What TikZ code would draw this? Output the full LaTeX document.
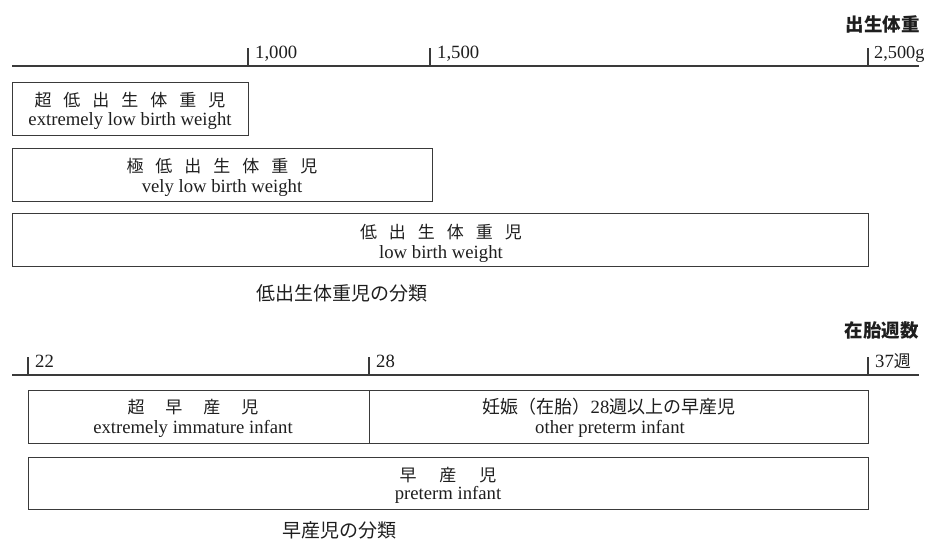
\documentclass[tikz,border=0pt]{standalone}
\usepackage{fontspec}
\setmainfont{Liberation Serif}
\newfontfamily\jpf{Noto Sans CJK JP}
\newcommand\gA{\hspace{12pt}}
\newcommand\gB{\hspace{21pt}}
\newcommand\gC{\hspace{23pt}}
\definecolor{lncol}{HTML}{3A3A3A}
\definecolor{txtcol}{HTML}{1E1E1E}
\begin{document}
\begin{tikzpicture}[x=1pt,y=-1pt,
  axisln/.style={line width=1.6pt, draw=lncol},
  tickln/.style={line width=1.1pt, draw=lncol},
  boxst/.style={draw=lncol, line width=1.4pt, inner sep=0pt, anchor=north west},
  lat/.style={font=\fontsize{18.7}{20}\selectfont, text=txtcol, inner sep=0pt},
  jp/.style={font=\jpf\fontsize{17}{20}\selectfont, text=txtcol, inner sep=0pt},
  captxt/.style={font=\jpf\fontsize{19}{22}\selectfont, text=txtcol, inner sep=0pt},
  ttl/.style={font=\jpf\bfseries\fontsize{18.5}{22}\selectfont, text=txtcol, inner sep=0pt},
]
\useasboundingbox (0,0) rectangle (928,544);
% ---------- birth weight ----------
\node[ttl, anchor=east] (wt) at (920,24) {出生体重};
\coordinate (ta1) at (12,66);
\coordinate (ta2) at (919,66);
\draw[axisln] (ta1) -- (ta2);
\coordinate (t1a) at (248,48); \coordinate (t1b) at (248,66);
\coordinate (t2a) at (430,48); \coordinate (t2b) at (430,66);
\coordinate (t3a) at (868,48); \coordinate (t3b) at (868,66);
\draw[tickln] (t1a) -- (t1b);
\draw[tickln] (t2a) -- (t2b);
\draw[tickln] (t3a) -- (t3b);
\node[lat, anchor=base west] (l1000) at (255,58) {1,000};
\node[lat, anchor=base west] (l1500) at (437,58) {1,500};
\node[lat, anchor=base west, font=\fontsize{18.3}{20}\selectfont] (l2500) at (874,58) {2,500g};

\node[boxst, minimum width=236pt, minimum height=53pt] (b1) at (12,82) {};
\node[jp] (b1j) at (130,100) {超\gA 低\gA 出\gA 生\gA 体\gA 重\gA 児};
\node[lat, anchor=base] (b1e) at (130,125) {extremely low birth weight};

\node[boxst, minimum width=420pt, minimum height=53pt] (b2) at (12,148) {};
\node[jp] (b2j) at (222,166) {極\gA 低\gA 出\gA 生\gA 体\gA 重\gA 児};
\node[lat, anchor=base] (b2e) at (222,192) {vely low birth weight};

\node[boxst, minimum width=856pt, minimum height=53pt] (b3) at (12,213) {};
\node[jp] (b3j) at (441,232) {低\gA 出\gA 生\gA 体\gA 重\gA 児};
\node[lat, anchor=base] (b3e) at (441,258) {low birth weight};

\node[captxt] (c1) at (342,293) {低出生体重児の分類};

% ---------- gestational age ----------
\node[ttl, anchor=east] (ga) at (919,330) {在胎週数};
\coordinate (ba1) at (12,375);
\coordinate (ba2) at (919,375);
\draw[axisln] (ba1) -- (ba2);
\coordinate (u1a) at (28,357); \coordinate (u1b) at (28,375);
\coordinate (u2a) at (369,357); \coordinate (u2b) at (369,375);
\coordinate (u3a) at (868,357); \coordinate (u3b) at (868,375);
\draw[tickln] (u1a) -- (u1b);
\draw[tickln] (u2a) -- (u2b);
\draw[tickln] (u3a) -- (u3b);
\node[lat, anchor=base west] (l22) at (35,367) {22};
\node[lat, anchor=base west] (l28) at (376,367) {28};
\node[lat, anchor=base west] (l37) at (875,367) {37{\jpf\fontsize{17}{20}\selectfont 週}};

\node[boxst, minimum width=341pt, minimum height=53pt] (b4) at (28,390) {};
\node[boxst, minimum width=499pt, minimum height=53pt] (b5) at (369,390) {};
\node[jp] (b4j) at (193,407) {超\gB 早\gB 産\gB 児};
\node[lat, anchor=base] (b4e) at (193,433) {extremely immature infant};
\node[jp, font=\jpf\fontsize{18}{20}\selectfont] (b5j) at (609,407) {妊娠（在胎）{\rmfamily\fontsize{18.7}{20}\selectfont 28}週以上の早産児};
\node[lat, anchor=base] (b5e) at (610,433) {other preterm infant};

\node[boxst, minimum width=840pt, minimum height=52pt] (b6) at (28,457) {};
\node[jp] (b6j) at (448,475) {早\gC 産\gC 児};
\node[lat, anchor=base] (b6e) at (448,499) {preterm infant};

\node[captxt] (c2) at (339,530) {早産児の分類};
\end{tikzpicture}
\end{document}
